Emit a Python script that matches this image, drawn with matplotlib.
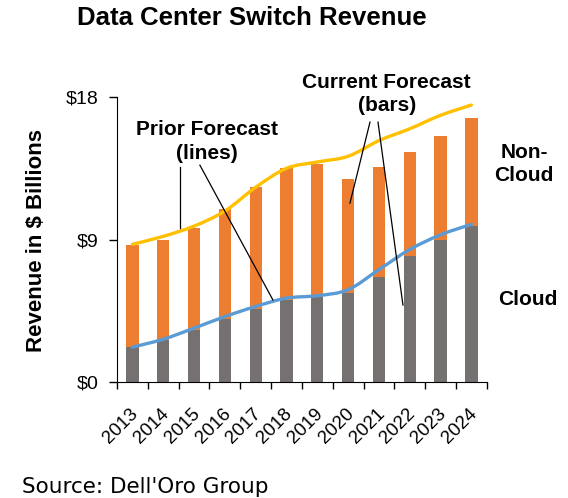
import matplotlib
matplotlib.use("Agg")
import matplotlib.pyplot as plt
import numpy as np
from matplotlib.path import Path
from matplotlib.patches import PathPatch

years = ["2013", "2014", "2015", "2016", "2017", "2018",
         "2019", "2020", "2021", "2022", "2023", "2024"]
# current forecast (bars), $ billions
cloud = [2.18, 2.65, 3.28, 4.0, 4.6, 5.2, 5.4, 5.6, 6.63, 7.94, 9.0, 9.85]
non_cloud = [6.46, 6.35, 6.47, 6.9, 7.75, 8.3, 8.37, 7.2, 6.93, 6.56, 6.57, 6.82]
# prior forecast (lines)
prior_total = [8.7, 9.2, 9.85, 10.8, 12.3, 13.5, 13.9, 14.26, 15.25, 16.0, 16.85, 17.5]
prior_cloud = [2.2, 2.7, 3.4, 4.13, 4.77, 5.3, 5.45, 5.83, 7.1, 8.37, 9.3, 9.96]
yticks = [0, 9, 18]
ytick_labels = ["$0", "$9", "$18"]

FONT = "Liberation Sans"


def smooth_line(ax, xs, ys, color, lw):
    # excel style smoothed line: catmull-rom segments as cubic beziers
    pts = np.column_stack([xs, ys]).astype(float)
    verts = [pts[0]]
    codes = [Path.MOVETO]
    n = len(pts)
    for i in range(n - 1):
        p0 = pts[i - 1] if i > 0 else pts[i]
        p1 = pts[i]
        p2 = pts[i + 1]
        p3 = pts[i + 2] if i + 2 < n else pts[i + 1]
        c1 = p1 + (p2 - p0) / 6.0
        c2 = p2 - (p3 - p1) / 6.0
        verts += [c1, c2, p2]
        codes += [Path.CURVE4] * 3
    patch = PathPatch(Path(verts, codes), facecolor="none", edgecolor=color,
                      lw=lw, capstyle="round", zorder=3)
    ax.add_patch(patch)


fig = plt.figure(figsize=(5.68, 4.98), dpi=100)
ax = fig.add_axes([0.206, 0.233, 0.651, 0.572])

x = np.arange(len(years))
ax.bar(x, cloud, width=0.4, color="#767171", zorder=2)
ax.bar(x, non_cloud, width=0.4, bottom=cloud, color="#ED7D31", zorder=2)

smooth_line(ax, x, prior_total, "#FFC000", 2.4)
smooth_line(ax, x, prior_cloud, "#5B9BD5", 2.4)

ax.set_xlim(-0.5, len(years) - 0.5)
ax.set_ylim(0, 18)
ax.set_yticks(yticks)
ax.set_yticklabels(ytick_labels, fontsize=14, family=FONT)
ax.tick_params(axis="y", length=5.5, width=1, direction="out", pad=8)

# category boundary ticks like excel, labels drawn by hand below
ax.set_xticks(np.arange(-0.5, len(years)))
ax.set_xticklabels([])
ax.tick_params(axis="x", length=5, width=1, direction="out")
for i, yr in enumerate(years):
    ax.annotate(yr, xy=(i, 0), xycoords=ax.get_xaxis_transform(),
                xytext=(-2, -17), textcoords="offset points",
                rotation=45, ha="right", va="top", rotation_mode="anchor",
                fontsize=13.5, family=FONT)

for s in ["top", "right"]:
    ax.spines[s].set_visible(False)

fig.text(0.065, 0.518, "Revenue in $ Billions", rotation=90, ha="center",
         va="center", fontsize=16, fontweight="bold", family=FONT)

fig.text(0.444, 0.964, "Data Center Switch Revenue", ha="center", va="center",
         fontsize=18.5, fontweight="bold", family=FONT)

# annotations
txt = dict(ha="center", va="center", fontsize=15, fontweight="bold",
           family=FONT, linespacing=1.3)
fig.text(0.364, 0.716, "Prior Forecast\n(lines)", **txt)
fig.text(0.681, 0.811, "Current Forecast\n(bars)", **txt)
ax.plot([1.54, 1.54], [13.6, 9.73], color="black", lw=0.9, zorder=4)
ax.plot([2.19, 4.56], [13.7, 5.18], color="black", lw=0.9, zorder=4)
ax.plot([7.71, 7.06], [16.42, 11.3], color="black", lw=0.9, zorder=4)
ax.plot([7.97, 8.78], [16.42, 4.86], color="black", lw=0.9, zorder=4)

fig.text(0.923, 0.671, "Non-\nCloud", **txt)
fig.text(0.93, 0.398, "Cloud", ha="center", va="center", fontsize=15,
         fontweight="bold", family=FONT)

fig.text(0.039, 0.022, "Source: Dell'Oro Group", ha="left", va="center",
         fontsize=15.5, family="DejaVu Sans")

fig.savefig("out.png", dpi=100)
